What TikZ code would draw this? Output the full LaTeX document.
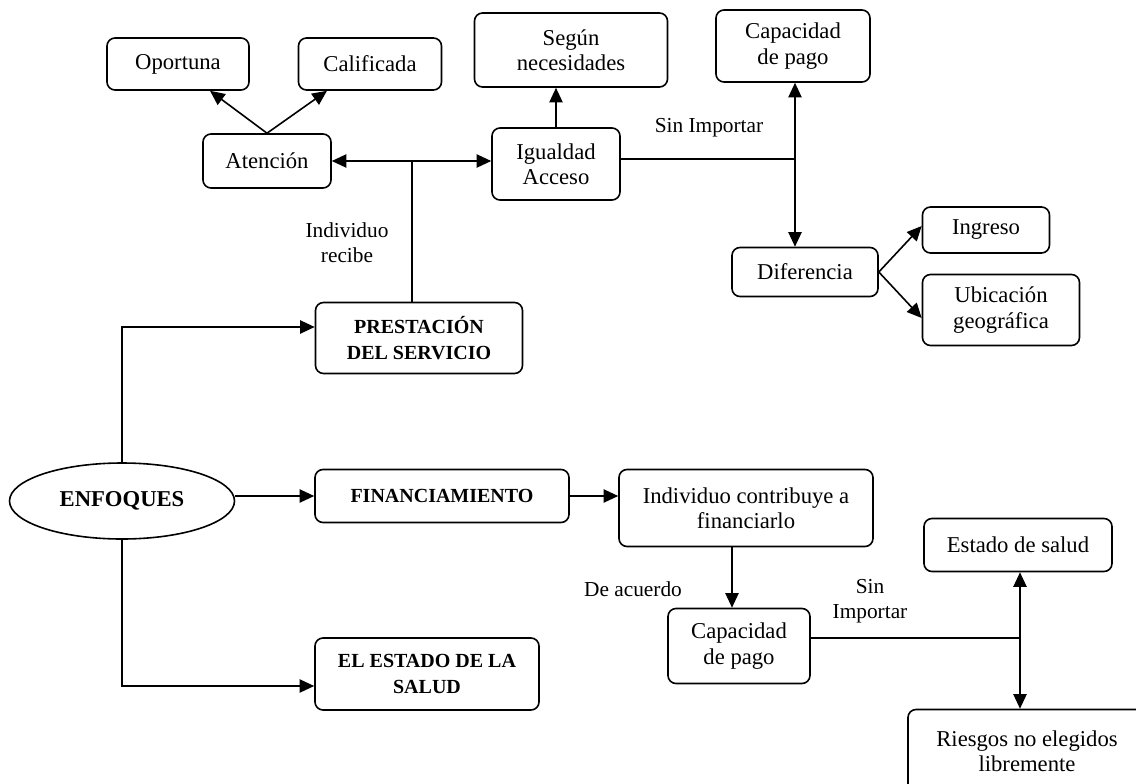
\documentclass[tikz,border=0pt]{standalone}
\usepackage{fontspec}
\setmainfont{Liberation Serif}
\usetikzlibrary{arrows.meta,calc,shapes.geometric}
\begin{document}
\begin{tikzpicture}[x=0.75pt,y=-0.75pt,
  line width=1.2pt,
  tip/.style={-{Triangle[length=11pt,width=10pt]}},
  dtip/.style={{Triangle[length=11pt,width=10pt]}-{Triangle[length=11pt,width=10pt]}},
  sz/.style 2 args={minimum width=#1*0.75pt,minimum height=#2*0.75pt},
  box/.style={draw,rounded corners=6pt,align=center,inner sep=0pt,
    font=\fontsize{17}{19}\selectfont},
  bbox/.style={draw,rounded corners=6pt,align=center,inner sep=0pt,
    font=\fontsize{15}{19}\selectfont\bfseries},
  lbl/.style={align=center,inner sep=0pt,font=\fontsize{16}{19}\selectfont}]
\fill[white] (0,0) rectangle (1136,783);
\useasboundingbox (0,0) rectangle (1136,783);

% nodes
\node[box,sz={142}{52}] (opo) at (178,64) {Oportuna};
\node[box,sz={143}{52}] (cal) at (370,64) {Calificada};
\node[box,sz={128}{54}] (ate) at (267,161) {Atención};
\node[box,sz={193}{74}] (seg) at (571,50) {Según\\necesidades};
\node[box,sz={128}{72}] (igu) at (556,164) {Igualdad\\Acceso};
\node[box,sz={154}{72}] (capT) at (793,46) {Capacidad\\de pago};
\node[box,sz={146}{49}] (dif) at (805,272) {Diferencia};
\node[box,sz={127}{46}] (ing) at (986,230) {Ingreso};
\node[box,sz={157}{71}] (ubi) at (1001,310) {Ubicación\\geográfica};
\node[bbox,sz={207}{71}] (pre) at (419,338) {PRESTACIÓN\\DEL SERVICIO};
\node[draw,ellipse,inner sep=0pt,sz={225}{76},font=\fontsize{17}{19}\selectfont\bfseries] (enf) at (122,501) {ENFOQUES};
\node[bbox,sz={254}{53}] (fin) at (442,496) {FINANCIAMIENTO};
\node[box,sz={254}{77}] (ind) at (746,508) {Individuo contribuye a\\financiarlo};
\node[box,sz={142}{75}] (capB) at (739,646) {Capacidad\\de pago};
\node[box,sz={188}{53}] (est) at (1018,545) {Estado de salud};
\node[box,sz={238}{83}] (rie) at (1027,751) {Riesgos no elegidos\\libremente};
\node[bbox,sz={224}{72}] (ele) at (427,674) {EL ESTADO DE LA\\SALUD};

% labels
\node[lbl] (l1) at (709,128) {Sin Importar};
\node[lbl] (l2) at (347,243) {Individuo\\recibe};
\node[lbl] (l3) at (633,589) {De acuerdo};
\node[lbl] (l4) at (870,601) {Sin\\Importar};

% junction coordinates
\coordinate (j1) at (412,161);
\coordinate (j2) at (795,159);
\coordinate (j3) at (732,0);
\coordinate (j4) at (1020,638);

% connectors
\draw[tip] (ate.north) -- ($(opo.south)+(32,0)$);
\draw[tip] (ate.north) -- ($(cal.south)+(-43,0)$);
\draw[dtip] (ate.east) -- (ate.east -| igu.west);
\draw (pre.north -| j1) -- (j1);
\draw[tip] (igu.north) -- (igu.north |- seg.south);
\draw (igu.east |- j2) -- (j2);
\draw[dtip] (capT.south -| j2) -- (dif.north -| j2);
\draw[tip] (dif.east) -- ($(ing.west)+(0,-4)$);
\draw[tip] (dif.east) -- ($(ubi.west)+(0,8)$);
\draw[tip] (enf.north) |- ($(pre.west)+(0,-11)$);
\draw[tip] (enf.east |- fin.west) -- (fin.west);
\draw[tip] (enf.south) |- ($(ele.west)+(0,12)$);
\draw[tip] (fin.east) -- (fin.east -| ind.west);
\draw[tip] (ind.south -| j3) -- (capB.north -| j3);
\draw (capB.east |- j4) -- (j4);
\draw[dtip] (est.south -| j4) -- (rie.north -| j4);
\end{tikzpicture}
\end{document}
